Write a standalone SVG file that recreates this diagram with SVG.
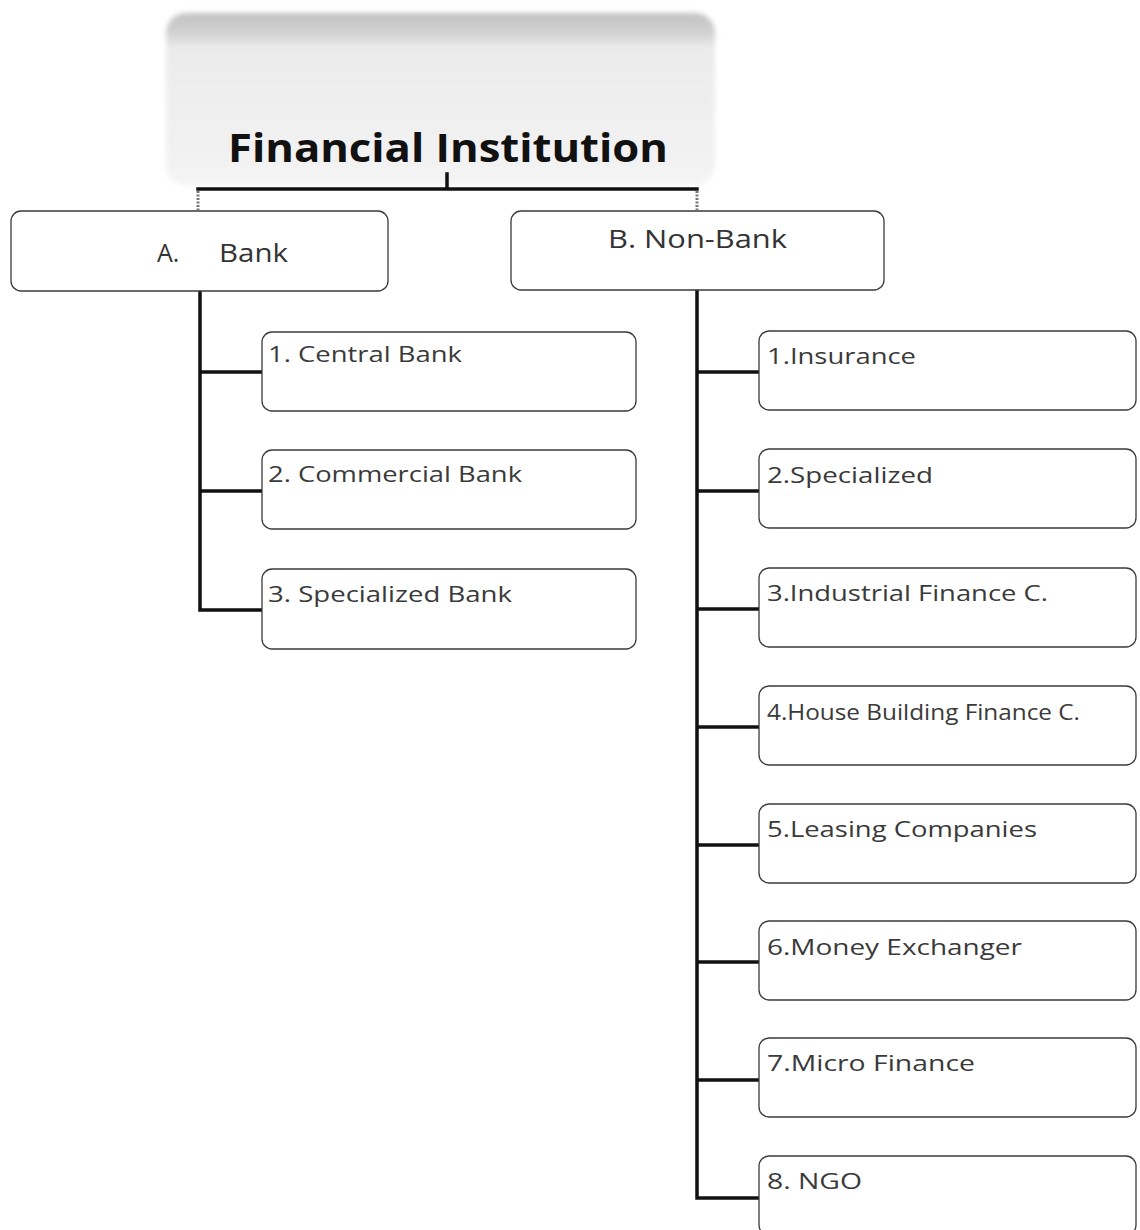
<svg xmlns="http://www.w3.org/2000/svg" width="1140" height="1230" viewBox="0 0 1140 1230">
  <style>
    .box { fill: #ffffff; stroke: #3a3a3a; stroke-width: 1.3; }
    .conn { fill: none; stroke: #111111; stroke-width: 3.5; stroke-linecap: square; }
    .tick { fill: none; stroke: #777777; stroke-width: 3; stroke-dasharray: 2 1.5; }
    .head { font-family: "Open Sans", "Liberation Sans", sans-serif; font-size: 25px; fill: #333333; }
    .item { font-family: "Open Sans", "Liberation Sans", sans-serif; font-size: 21px; fill: #3a3a3a; }
    .title { font-family: "Open Sans", "Liberation Sans", sans-serif; font-size: 39px; font-weight: bold; fill: #111111; }
  </style>
  <defs>
    <linearGradient id="titleShade" x1="0" y1="0" x2="0" y2="1">
      <stop offset="0" stop-color="#c2c2c2"/>
      <stop offset="0.12" stop-color="#d2d2d2"/>
      <stop offset="0.2" stop-color="#ebebeb"/>
      <stop offset="1" stop-color="#f4f4f4"/>
    </linearGradient>
    <filter id="soft" x="-5%" y="-10%" width="110%" height="120%">
      <feGaussianBlur stdDeviation="2.5"/>
    </filter>
  </defs>

  <rect width="1140" height="1230" fill="#ffffff"/>

  <!-- title on its shaded panel -->
  <g id="title">
    <rect x="166" y="13" width="549" height="172" rx="20" fill="url(#titleShade)" filter="url(#soft)"/>
    <text class="title" x="228" y="162" textLength="440" lengthAdjust="spacingAndGlyphs">Financial Institution</text>
  </g>

  <!-- connectors -->
  <g id="connectors">
    <path class="conn" d="M447 174 V189 M198 189 H697"/>
    <path class="tick" d="M198 191 V210 M697 191 V210"/>
    <path class="conn" d="M200 292 V610 M200 372 H262 M200 491 H262 M200 610 H262"/>
    <path class="conn" d="M697 291 V1198 M697 372 H759 M697 491 H759 M697 609 H759 M697 727 H759 M697 845 H759 M697 962 H759 M697 1080 H759 M697 1198 H759"/>
  </g>

  <!-- level 1 -->
  <g id="bank">
    <rect class="box" x="11" y="211" width="377" height="80" rx="10"/>
    <text class="head" x="157" y="262">A.</text>
    <text class="head" x="219" y="262" textLength="69" lengthAdjust="spacingAndGlyphs">Bank</text>
  </g>
  <g id="non-bank">
    <rect class="box" x="511" y="211" width="373" height="79" rx="10"/>
    <text class="head" x="608" y="248" textLength="179" lengthAdjust="spacingAndGlyphs">B. Non-Bank</text>
  </g>

  <!-- bank types -->
  <g id="central-bank">
    <rect class="box" x="262" y="332" width="374" height="79" rx="10"/>
    <text class="item" x="268" y="362" textLength="194" lengthAdjust="spacingAndGlyphs">1. Central Bank</text>
  </g>
  <g id="commercial-bank">
    <rect class="box" x="262" y="450" width="374" height="79" rx="10"/>
    <text class="item" x="268" y="482" textLength="254" lengthAdjust="spacingAndGlyphs">2. Commercial Bank</text>
  </g>
  <g id="specialized-bank">
    <rect class="box" x="262" y="569" width="374" height="80" rx="10"/>
    <text class="item" x="268" y="602" textLength="244" lengthAdjust="spacingAndGlyphs">3. Specialized Bank</text>
  </g>

  <!-- non-bank types -->
  <g id="insurance">
    <rect class="box" x="759" y="331" width="377" height="79" rx="10"/>
    <text class="item" x="767" y="364" textLength="149" lengthAdjust="spacingAndGlyphs">1.Insurance</text>
  </g>
  <g id="specialized">
    <rect class="box" x="759" y="449" width="377" height="79" rx="10"/>
    <text class="item" x="767" y="483" textLength="166" lengthAdjust="spacingAndGlyphs">2.Specialized</text>
  </g>
  <g id="industrial-finance">
    <rect class="box" x="759" y="568" width="377" height="79" rx="10"/>
    <text class="item" x="767" y="601" textLength="281" lengthAdjust="spacingAndGlyphs">3.Industrial Finance C.</text>
  </g>
  <g id="house-building-finance">
    <rect class="box" x="759" y="686" width="377" height="79" rx="10"/>
    <text class="item" x="767" y="720" textLength="313" lengthAdjust="spacingAndGlyphs">4.House Building Finance C.</text>
  </g>
  <g id="leasing">
    <rect class="box" x="759" y="804" width="377" height="79" rx="10"/>
    <text class="item" x="767" y="837" textLength="270" lengthAdjust="spacingAndGlyphs">5.Leasing Companies</text>
  </g>
  <g id="money-exchanger">
    <rect class="box" x="759" y="921" width="377" height="79" rx="10"/>
    <text class="item" x="767" y="955" textLength="255" lengthAdjust="spacingAndGlyphs">6.Money Exchanger</text>
  </g>
  <g id="micro-finance">
    <rect class="box" x="759" y="1038" width="377" height="79" rx="10"/>
    <text class="item" x="767" y="1071" textLength="208" lengthAdjust="spacingAndGlyphs">7.Micro Finance</text>
  </g>
  <g id="ngo">
    <rect class="box" x="759" y="1156" width="377" height="79" rx="10"/>
    <text class="item" x="767" y="1189" textLength="95" lengthAdjust="spacingAndGlyphs">8. NGO</text>
  </g>
</svg>
